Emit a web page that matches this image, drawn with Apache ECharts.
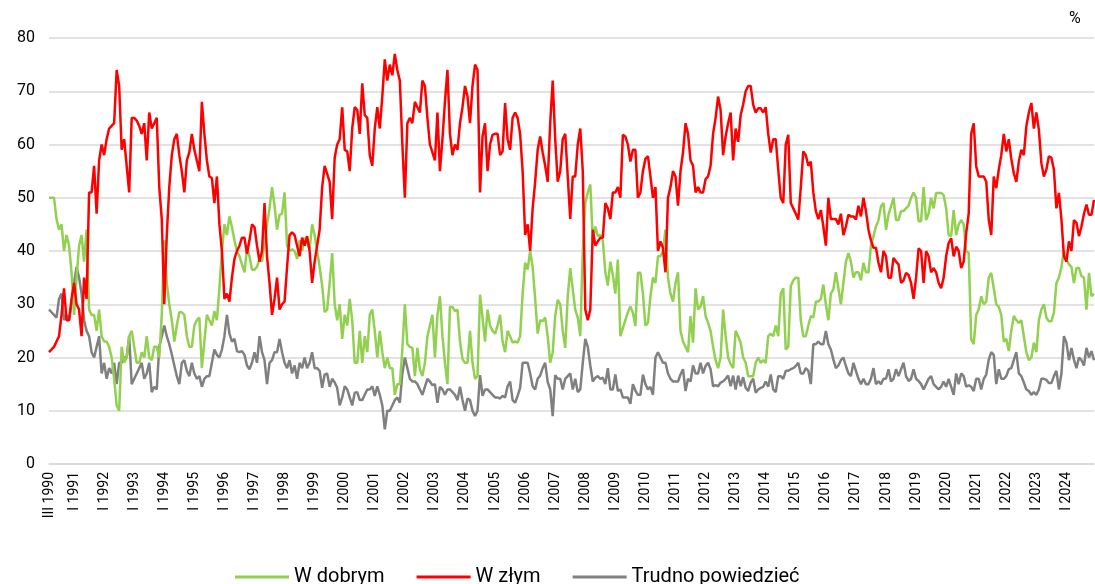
<!DOCTYPE html>
<html>
<head>
<meta charset="utf-8">
<script src="https://cdn.jsdelivr.net/npm/echarts@6/dist/echarts.min.js"></script>
<style>
html,body{margin:0;padding:0;background:#fff;}
#chart{width:1095px;height:584px;}
</style>
</head>
<body>
<div id="chart"></div>
<script>
// Monthly series, III 1990 – XII 2024
const romanMonths = ['I','II','III','IV','V','VI','VII','VIII','IX','X','XI','XII'];
const startYear = 1990, startMonth = 3;
const yTicks = [0,10,20,30,40,50,60,70,80];
const seriesNames = ['W dobrym', 'W złym', 'Trudno powiedzieć'];

const wDobrym = [
50,50,50,46,44,45,40,43,41,36,28,35,41,43,38,44,29,
28,28,25,29,24,23,23,22,20,16,11,10,22,19,20,24,25,
22,19,19,21,20,24,20,19.5,22,22,20,28,42,34,30,27,23,26,28.5,28.5,28,24,22,22,26,27,27.5,18,23,28,27,26,28.7,27,33,40,
45,43,46.5,44.5,42,40,39,37.5,36,40.5,39,36.5,36.5,37,38.5,38,41.5,45,48,52,48.5,44,46.8,47,51,41,40,40.3,40,38.5,42,40,42.5,41.5,40.3,
45,43,40,37,33.5,28.5,29,34,39.6,30,27,30,23.5,28,26,31,27,19,19,25,19,24,21,28,29,25,20,25,21,18,20,18,18,13,15,
15,21.5,30,22.5,22,21.8,16.5,21.8,17.8,16.5,19,24,26,28,20,28,31.5,24,19,15,29.5,29.5,28.7,29,23,19.7,19,19,25,19,16,16.5,31.8,27.5,23,
29,26,25,24.5,26,28,23,21,25,24,22.8,23,22.8,24,32,37.8,36.5,40,37,31,24.5,27,26.8,27.5,24,19,21,27.8,30.8,30,25,21.8,31.5,36.8,32.8,
29,27.5,24,40,49,51,52.5,42,44.6,42.8,43,42,36,33.5,38,35.5,32,38.4,24,25.5,27,28.5,29.6,28.4,25.9,35.9,35.9,32,26,26.5,31.5,35,34,39,39,
40,44,35,32,30.5,34,36,25,23,22,21,27.8,22.8,33,29,29.6,31.5,27.8,26.5,25,22,19.5,18,20,29,24,20,18.7,18,25,24,22.8,20,19,16.5,16.5,
16.5,19,20,19,19.5,19,24,24.5,24,26,24,32,33,21.5,22,33.4,34.5,35,35,27,24,24,26,27.8,27.5,30.5,30.5,31,33.7,30,27,32,32.8,36,33,
30,34,38,39.6,38,35,36,36,34.5,37.8,36,36,41,42.8,44.6,45.8,48.4,49,44,46.8,48.4,50,45.8,45.8,47.5,47.5,48,48.5,50,51,50,45.6,45.6,52,45.8,
47,50,48,50.9,50.9,50.9,50.5,48,43,42.8,47.7,43,45,45.8,45,40,39.6,23.4,22.5,28,29,31.5,30,30.5,35,35.9,33,30,29.5,28,23,23.5,21.2,25,27.8,
27,26.5,27,24,21,19.5,20,22.8,21,27,29,30,27.5,26.8,26.8,28.4,34,35,37,40,38.4,37.5,37,34,36.8,36.8,35.3,35,29,35.9,31.5,32
];

const wZlym = [
21,21.5,22,23,24,28,33,27,27,31,34,30,29,24,35,31,51,
51,56,47,57,60,58,61,63,63.5,64,74,71,59,61,56,51,65,
65,64.5,63.5,62,64,57,66,63,64,65,52,46,30,43,52,58,61,62,58,55,51,57,58.5,62,59,57,55,68,62,57,54,53.7,49,54,45,40,
31,32,30.5,35,38.5,40,41,42.5,42.5,39.5,42,45,44.5,41,38,40,49,39,34,28,31,35,29,30,30.5,37,43,43.5,43,41,39,42.5,41,42.8,40,
34,38,41,44,52,56,54.5,53,46,57.5,60,61,67,59,58.7,55,63,67,66.5,62,71.5,65.5,65,58,56,63,67,63,69,76,72,75,73,77,74,
72,60,50,64,65,64,68,67,66,72,71,65,60,58.5,57,66,55,61,68,74,62,58,60,59,64,67,71,69,64,71,75,74,51,61.5,64,
55,60,61.8,62,62,58,58.7,67.8,61,59,65,66,65,62,55,43,45,40,48,53,59,61.5,58.5,56,53,64,72,61,53,55,61,62,54,46,54,
54,60,63,55,29,27,29,44,41,41.8,42.5,42.5,49,48,46,51,51,52,50,61.8,61.5,60,56.8,59,59,50,51,55,57.3,57.8,54,50,52,40,41.8,
40.6,36,50,52,55,54,48.5,55,58.5,64,62,57,56,51,52,51,51,53.5,54,56,62,65,69,66.5,58,61.5,64,66,57,63,60.5,65.5,67.5,70,71,71,
67.5,66,66.8,66.8,66,67,62,58.5,61,61,55.3,50,49,60,61.8,49,48,47,45.9,52,58.7,58,56,56.8,51,47.5,46,47.7,44.6,41,50,46,46,46,45,
47,43,44.6,46.8,46.5,46.5,45.9,48.5,46.5,50,47.5,44,42,40.6,40.6,37.8,36,40,39,35,35,38.7,38,37.5,34,34.5,35.9,35.5,34,31,35,40.5,40,34,40,
39,36,36.8,36,34,33,35,39,41.5,42.4,39,40.8,40,36.8,38,43.4,47,62,64,55.9,54,54,54,53,45.9,43,54,51.8,55.3,58,62,58.7,61,57.3,54.6,
53,56.8,59,58,63.4,66,67.8,63,66,62.8,56.5,54,55.3,57.8,57.5,55.3,48,50.9,46,39,38,41.8,40,45.8,45.3,42.8,44.6,47,48.7,46.8,46.8,49.6
];

const trudno = [
29,28.5,28,27.5,31,32,27,28,27,30,34,37,35,32,27,25,24,
21,20,22,24,17,19,16,18,17,19,15,19,19,20,20,24,15,
16,17,18,19,16,17,19,13.5,14.5,14,22,24,26,24,22.5,20.6,18.5,16.5,15,19,19.5,17.5,16.5,19,17,16,16.5,14.5,16,16.5,16.5,19,21.5,20.5,20,21.5,
24,28,24.5,23,23.5,21.2,21,21.2,20.5,18.5,17.8,19,21,19,24,21,19.5,15,19,19.5,21,21,23.5,21,19,18,19.5,17,18.5,16,19,18,20,18,19,
21,18,18,17.5,14.3,16.8,17,14.5,16,15.3,14.3,11,12.5,14.6,14,12.5,11,13.4,13.5,12,12,13,14,14,14.6,12.8,14.6,13,11,6.5,10,10,11,12,12.5,
11.5,17,20,18,16,15.5,15.5,15,14,13,14.5,16,15.5,14.8,15,11.5,14.5,14,13,14,14,13.5,13,12,14.5,12,10,12.3,12,10,9,10,16.7,12.8,14,
14,13.5,13,12.5,12.5,12.3,12.8,12.5,14.6,15.5,12,11.5,12.8,14.3,19,19,19,17,14.6,14,16,16.6,18,19,15.4,14,9,16.7,16,16,14,16,16.5,17,14,
16,13.5,14,19,23.5,22,18.5,15.5,16.2,16.5,16,16.2,15,18,14,14,16.8,13.7,14,12.5,12.5,12.5,11.3,15,13.8,13,13,16.8,15,14,14.5,13,20,21,20,
19,19,17,16,15.5,15.5,15.5,16.8,17.8,13.7,16,15.5,18.5,17,17,19,17,18.4,19,17.8,14.6,14.8,14.6,15.3,15.5,16,16.6,14.6,16.6,14,16.6,14.6,16.3,14.3,13.7,15.3,
16,13.4,14,14.3,14.5,15.5,14.5,16.8,14,13.5,16.5,16.5,16,17.5,17.5,17.8,18,18.4,19,17,17,18,17.5,15,22.5,22.5,23,22.5,22.5,25,22.5,21.5,19.6,18,18.5,
19.5,20,18.4,17,16.5,19,17.5,16,15,16,15,15,16,18,15,15.5,15,16,16,17.8,15.5,16,17.8,16.5,17.8,19,16.5,15.6,16,17.8,16,15.6,15,14,15,
16,16.5,15,14.5,14,14.5,15.5,14.5,16,14.5,13,17,15,17,16.5,14.5,14.8,14.5,13.7,16,16,14,16,16.8,19.6,21,20.5,15,17.8,16,16,16.5,17.8,18,19.5,
21,17,16.5,15.3,14,13.7,13,13.5,13,14,16,16,15.8,15.2,15.2,16.5,17.5,14,17,24,22.8,19.5,21.8,19.6,18,20,19.5,18.5,21.8,20,21.2,19.5
];

const categories = [];
for (let i = 0; i < wDobrym.length; i++) {
  const t = (startMonth - 1) + i;
  categories.push(romanMonths[t % 12] + ' ' + (startYear + Math.floor(t / 12)));
}

const colors = ['#92d050', '#ff0000', '#808080'];
const font = 'Roboto, "Liberation Sans", Arial, sans-serif';

const chart = echarts.init(document.getElementById('chart'), null, {renderer: 'canvas'});
chart.setOption({
  animation: false,
  textStyle: {fontFamily: font},
  grid: {left: 49, right: 1, top: 38, bottom: 120},
  graphic: [{
    type: 'text', left: 1069, top: 11,
    style: {text: '%', fontSize: 16, fill: '#000', fontFamily: font}
  }],
  legend: {
    data: seriesNames,
    left: 230, top: 562,
    icon: 'rect',
    itemWidth: 54, itemHeight: 3, itemGap: 32,
    textStyle: {fontSize: 20, color: '#000', fontFamily: font, padding: [0,0,0,0]}
  },
  xAxis: {
    type: 'category',
    data: categories,
    boundaryGap: false,
    axisLine: {show: true, lineStyle: {color: '#d9d9d9', width: 1.5}},
    axisTick: {show: false},
    axisLabel: {
      rotate: 90,
      interval: (idx, val) => idx === 0 || val.indexOf('I ') === 0,
      fontSize: 14,
      color: '#000',
      margin: 8,
      fontFamily: font
    },
    splitLine: {show: false}
  },
  yAxis: {
    type: 'value',
    min: yTicks[0], max: yTicks[yTicks.length - 1], interval: 10,
    axisLine: {show: false},
    axisTick: {show: false},
    axisLabel: {fontSize: 16, color: '#000', margin: 14, fontFamily: font},
    splitLine: {lineStyle: {color: '#d9d9d9', width: 1.5}}
  },
  series: [
    {name: seriesNames[0], type: 'line', data: wDobrym, symbol: 'none', lineStyle: {width: 2.5, color: colors[0]}, itemStyle: {color: colors[0]}, z: 2},
    {name: seriesNames[1], type: 'line', data: wZlym, symbol: 'none', lineStyle: {width: 2.5, color: colors[1]}, itemStyle: {color: colors[1]}, z: 3},
    {name: seriesNames[2], type: 'line', data: trudno, symbol: 'none', lineStyle: {width: 2.5, color: colors[2]}, itemStyle: {color: colors[2]}, z: 1}
  ]
});
</script>
</body>
</html>
